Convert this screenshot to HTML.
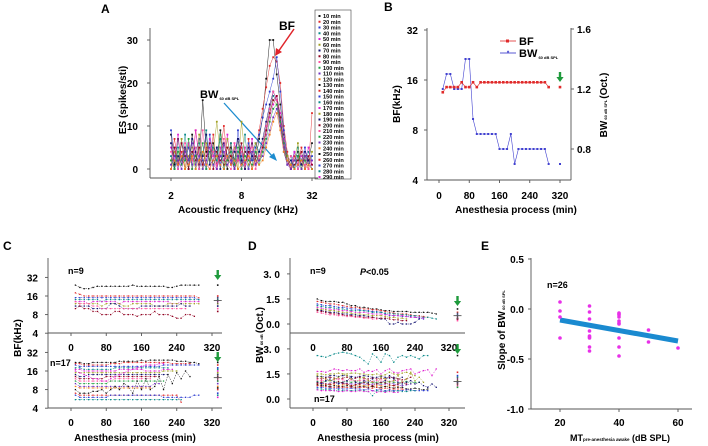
<!DOCTYPE html>
<html><head><meta charset="utf-8"><style>
html,body{margin:0;padding:0;background:#fff;}
svg{display:block;font-family:"Liberation Sans",Arial,sans-serif;font-weight:bold;}
</style></head><body>
<svg id="fig" width="708" height="446" viewBox="0 0 708 446" xmlns="http://www.w3.org/2000/svg">
<g>
<text x="101" y="13" font-size="12">A</text>
<text x="279" y="30" font-size="12">BF</text>
<line x1="294" y1="29" x2="278" y2="52" stroke="#e0242a" stroke-width="1.5"/>
<polygon points="275,56 276,48 282,52" fill="#e0242a"/>
<text x="200" y="98" font-size="11">BW<tspan font-size="4" dy="2"> 60 dB SPL</tspan></text>
<line x1="224" y1="103" x2="273" y2="157" stroke="#1d8ccf" stroke-width="1.3"/>
<polygon points="277,161 269,157 274,153" fill="#1d8ccf"/>
<text x="238" y="213" font-size="10" text-anchor="middle">Acoustic frequency (kHz)</text>
<text transform="translate(126,100) rotate(-90)" font-size="10" text-anchor="middle">ES (spikes/sti)</text>
<rect x="315" y="10" width="36" height="169" fill="none" stroke="#444" stroke-width="0.6"/>
</g>
<g>
<text x="384" y="11" font-size="12">B</text>
<text x="516" y="213" font-size="10" text-anchor="middle">Anesthesia process (min)</text>
<text transform="translate(400,104) rotate(-90)" font-size="10" text-anchor="middle">BF(kHz)</text>
<text transform="translate(607,105) rotate(-90)" font-size="10" text-anchor="middle">BW<tspan font-size="4"> 60 dB SPL </tspan>(Oct.)</text>
<line x1="500" y1="41" x2="516" y2="41" stroke="#e02a2a" stroke-width="0.8"/>
<rect x="506" y="39.5" width="3" height="3" fill="#e02a2a"/>
<text x="519" y="45" font-size="11">BF</text>
<line x1="500" y1="53" x2="516" y2="53" stroke="#3030c8" stroke-width="0.8"/>
<text x="508" y="55" font-size="6" fill="#3030c8" text-anchor="middle">*</text>
<text x="519" y="57" font-size="11">BW<tspan font-size="4" dy="2"> 60 dB SPL</tspan></text>
</g>
<g>
<text x="3" y="250" font-size="12">C</text>
<text x="135" y="441" font-size="10" text-anchor="middle">Anesthesia process (min)</text>
<text transform="translate(21,338) rotate(-90)" font-size="10" text-anchor="middle">BF(kHz)</text>
<text x="68" y="274" font-size="9">n=9</text>
<text x="50" y="366" font-size="9">n=17</text>
</g>
<g>
<text x="248" y="250" font-size="12">D</text>
<text transform="translate(263,335) rotate(-90)" font-size="10" text-anchor="middle">BW<tspan font-size="4"> 60 dB </tspan>(Oct.)</text>
<text x="310" y="274" font-size="9">n=9</text>
<text x="360" y="275" font-size="9"><tspan font-style="italic">P</tspan>&lt;0.05</text>
<text x="314" y="402" font-size="9">n=17</text>
<text x="378" y="441" font-size="10" text-anchor="middle">Anesthesia process (min)</text>
</g>
<g>
<text x="481" y="250" font-size="12">E</text>
<text x="547" y="288" font-size="9">n=26</text>
<text transform="translate(505,330) rotate(-90)" font-size="10" text-anchor="middle">Slope of BW<tspan font-size="4"> 60 dB SPL</tspan></text>
<text x="620" y="441" font-size="9" text-anchor="middle">MT<tspan font-size="4.5">pre-anesthesia awake</tspan> (dB SPL)</text>
</g>
</svg>
<script>
// ---------- Panel A data ----------
const aFreqIdx = Array.from({length:41},(_,i)=>i); // 1/10-octave steps from 2 kHz
const aSeries1=[8,1,7,2,5,0,8,3,1,16,4,2,6,1,9,3,0,5,2,7,1,4,3,6,2,7,12,21,30,30,22,15,8,3,1,2,4,1,3,2,6];
const aSeries2=[2,7,1,4,0,6,2,9,3,1,5,2,8,0,4,10,2,6,1,3,5,0,7,2,4,9,14,19,24,26,25,20,10,4,0,3,1,5,2,0,13];
const aSeries3=[9,3,0,6,2,5,1,4,7,2,0,8,3,5,1,6,2,4,0,9,3,1,6,2,5,8,12,15,18,21,26,18,9,2,1,4,0,2,5,1,3];
const aSeries4=[3,0,5,2,8,1,4,0,6,3,9,1,5,2,7,0,3,6,1,4,2,8,0,3,6,4,6,10,14,17,16,12,6,1,3,0,5,2,1,4,2];
const aSeries5=[5,2,8,1,3,6,0,9,2,4,1,7,3,0,5,2,8,1,6,3,0,5,2,7,1,3,5,8,12,15,17,13,7,2,0,4,1,3,2,5,1];
const aSeries6=[1,4,2,7,0,3,5,1,8,0,6,2,4,11,3,1,7,2,5,0,11,3,1,4,6,2,4,9,13,16,15,10,5,3,1,2,6,0,3,1,4];
const aSeries7=[6,0,3,1,5,2,7,4,0,3,8,1,2,5,0,6,3,1,4,7,2,0,5,3,1,4,7,11,15,18,16,11,4,1,2,0,3,1,4,2,0];
const aSeries8=[0,5,1,6,3,0,4,2,5,1,3,6,0,4,2,1,5,3,0,2,6,1,4,0,3,2,5,9,13,16,17,12,6,2,0,1,2,4,0,3,1];
const aSeries9=[4,2,0,3,6,1,2,5,0,9,2,0,4,1,3,7,1,0,6,2,4,1,3,5,0,3,6,10,14,18,16,10,5,1,3,2,0,2,1,0,2];
const aSeries10=[2,0,4,1,2,7,0,3,2,6,0,4,1,3,8,0,2,4,1,5,0,3,2,1,4,1,4,7,11,14,15,11,6,2,1,0,3,0,2,1,0];
const aSeries11=[1,3,2,0,4,2,6,1,3,0,2,5,1,0,3,4,1,2,0,3,1,2,0,4,1,2,3,6,9,12,14,10,5,1,0,2,1,0,3,1,2];
const aSeries12=[0,2,1,3,0,1,3,0,2,4,1,0,2,3,1,0,3,1,2,0,1,2,3,0,2,1,2,5,8,11,13,9,4,2,1,0,1,2,0,1,0];
const aYTicks=[0,10,20,30];
const aXTicks=[2,8,32];
const aLegend=[10,20,30,40,50,60,70,80,90,100,110,120,130,140,150,160,170,180,190,200,210,220,230,240,250,260,270,280,290];
// ---------- Panel B data ----------
const bTimes=[10,20,30,40,50,60,70,80,90,100,110,120,130,140,150,160,170,180,190,200,210,220,230,240,250,260,270,280,290];
const bBF=[13.5,14.5,14.5,14.5,14.5,15.5,14.5,14.5,15.5,14.5,15.5,15.5,15.5,15.5,15.5,15.5,15.5,15.5,15.5,15.5,15.5,15.5,15.5,15.5,15.5,15.5,15.5,15.5,14.5];
const bBW=[1.2,1.3,1.3,1.2,1.2,1.2,1.4,1.4,1.0,0.9,0.9,0.9,0.9,0.9,0.9,0.8,0.8,0.8,0.9,0.7,0.8,0.8,0.8,0.8,0.8,0.8,0.8,0.8,0.7];
const bFinalTime=[320];
const bFinalBF=[14.5];
const bFinalBW=[0.7];
const bLeftTicks=[4,8,16,32];
const bRightTicks=[0.8,1.2,1.6];
const bXTicks=[0,80,160,240,320];
// ---------- Panel C data (BF kHz, t = 10..290) ----------
const cTimes=bTimes;
const cTop1=[24,22,21,21,22,23,23,23,23,23,23,23,23,24,23,23,23,23,23,23,23,22,22,23,24,24,24,24,24];
const cTop2=[18,17,16,16,16,16,16,16,16,16,16,16,16,16,16,16,16,16,16,16,16,16,16,16,16,16,16,16,15];
const cTop3=[15,15,15,15,15,15,15,15,15,15,15,15,15,15,15,15,15,15,15,15,15,15,15,15,15,15,15,15,14];
const cTop4=[14,14,14,14,14,14,13,14,14,14,14,14,14,14,14,14,14,14,14,14,14,14,14,14,14,14,14,14,14];
const cTop5=[13,13,13,12,13,13,13,13,13,13,12,13,13,13,13,13,13,13,13,13,13,13,12,12,13,13,13,13,13];
const cTop6=[12,12,12,12,12,12,11,12,12,12,12,11,11,12,12,12,12,12,11,11,11,12,12,12,12,12,12,12,12];
const cTop7=[11,11,11,11,10,10,10,10,12,12,11,10,10,10,10,11,11,11,11,11,11,11,11,11,12,11,11];
const cTop8=[10,11,10,10,9,9,8,8,8,9,9,8,8,8,7.5,8,8,8,9,8,8,8,7.5,7,7,8,8,7.5];
const cTop9=[13,12,12,12,11,11,10,10,10,10,10,10,10,10,10,10,10,10,10,10,10,10,10,10,10,10];
const cBot1=[22,22,21,21,22,22,22,22,22,22,23,23,23,23,23,24,23,24,24,24,24,24,24,23,23,23,22,22,21];
const cBot2=[21,21,20,20,20,20,20,20,21,21,21,22,22,22,22,22,22,22,22,22,22,22,21,21,21,21,21];
const cBot3=[20,19,19,19,19,19,19,19,19,19,19,19,19,19,19,19,19,19,19,19,20,20,20,20,20,20,20,20,20];
const cBot4=[18,18,17,17,17,17,17,17,17,18,18,18,18,18,18,18,18,18,18,18,18,18];
const cBot5=[17,17,16,16,16,16,16,16,16,16,17,17,17,17,17,17,16,16,16,16,17,17,17];
const cBot6=[15,15,15,15,15,15,15,15,15,15,15,15,15,15,15,15,15,15,15,15,16,16,16,16];
const cBot7=[14,13,13,14,14,14,14,14,14,14,14,14,14,14,14,14,14,14,14,14,14,14];
const cBot8=[13,12,12,12,12,12,12,13,13,13,13,13,13,13,13,13,13,13,13,13];
const cBot9=[12,11,11,11,11,11,11,11,11,12,12,12,12,12,12,12,12,12];
const cBot10=[11,10,10,10,10,10,10,10,11,11,11,11,11,11,11,11,11,11,11,11,11];
const cBot11=[10,9,9,9,9,9,9,9,9,9,9,9,9,9,9,9,9,9,10,10];
const cBot12=[9,8.5,8.5,8.5,8.5,8.5,8.5,8.5,8.5,8.5,8.5,8.5,8.5,8.5,8.5,8.5,8.5,8.5];
const cBot13=[8,7,7,7,7.5,7.5,8,7,8,9,8,10,9,7,11,8,12,8,9,13,8,14,10,15,12,16,13];
const cBot14=[7,6.5,6.5,6.5,6.5,6.5,6.5,6.5,6.5,6.5,6.5,6.5,6.5,6.5,6.5,6.5,6.5,6.5,6.5,6.5,6.5,6.5,6.5,6.5,5];
const cBot15=[6.5,6,6,6,6,6,6,6,6.5,6.5,6.5,6.5,6.5,6.5,6.5,6.5,6.5,6.5,6.5,6.5,6,6,6,6,6,6,6,6.5,6.5];
const cBot16=[5.5,5.5,5.5,5.5,5.5,5.5,5.5,5.5,5.5,5.5,5.5,5.5,5.5,5.5,5.5,5.5,5.5,5.5,5.5,5.5,5.5,5.5,5.5,5.5,5.5];
const cBot17=[16,15,14,13,12,12,11,11,12,13,14,15,16,17,18,19,20,20,20,21,21];
const cTopFinal=[24,16,15,14,13,12,11,9,10];
const cBotFinal=[22,20,18,17,16,15,14,13,12,11,10,9,8.5,8,7,6.5,6];
const cTopMean=[13.5];
const cBotMean=[12.5];
const cLogTicks=[4,8,16,32];
const cXTicks=[0,80,160,240,320];
// ---------- Panel D data (BW Oct.) ----------
const dTop1=[1.5,1.4,1.35,1.35,1.35,1.3,1.3,1.2,1.1,1.1,1.0,1.0,0.95,0.9,0.9,0.85,0.8,0.8,0.75,0.75,0.75,0.75,0.7,0.7,0.7,0.7,0.7,0.65,0.6];
const dTop2=[1.35,1.3,1.25,1.2,1.2,1.15,1.1,1.05,1.0,1.0,0.95,0.9,0.9,0.85,0.85,0.8,0.75,0.7,0.65,0.6,0.6,0.6,0.55,0.5,0.5,0.45,0.4];
const dTop3=[1.2,1.15,1.1,1.1,1.05,1.0,1.0,0.95,0.9,0.9,0.85,0.8,0.8,0.75,0.75,0.7,0.6,0.5,0.5,0.5,0.45,0.45,0.45,0.4,0.35,0.3];
const dTop4=[1.1,1.05,1.0,1.0,0.95,0.9,0.9,0.85,0.8,0.8,0.8,0.8,0.75,0.7,0.7,0.7,0.65,0.65,0.6,0.6,0.55,0.55,0.5,0.5,0.45,0.4,0.4,0.35,0.3];
const dTop5=[1.0,0.95,0.9,0.9,0.85,0.85,0.8,0.8,0.75,0.7,0.7,0.7,0.65,0.6,0.6,0.6,0.55,0.55,0.5,0.5,0.5,0.45,0.4,0.4,0.4,0.35];
const dTop6=[0.9,0.85,0.85,0.8,0.8,0.75,0.7,0.7,0.65,0.6,0.6,0.55,0.55,0.5,0.5,0.5,0.45,0.4,0.4,0.35,0.35,0.3];
const dTop7=[0.85,0.8,0.75,0.7,0.7,0.65,0.6,0.6,0.55,0.55,0.5,0.5,0.45,0.4,0.35,0.3,0.3,0.0,0.0,0.1,0.0,0.0,0.0,0.1,0.3];
const dTop8=[0.8,0.75,0.7,0.65,0.6,0.6,0.55,0.5,0.5,0.45,0.45,0.4,0.4,0.4,0.35,0.35,0.35,0.3,0.25,0.25,0.2,0.2];
const dTop9=[0.7,0.65,0.6,0.55,0.55,0.5,0.5,0.45,0.45,0.4,0.4,0.35,0.35,0.3,0.3];
const dBot1=[2.6,2.55,2.5,2.6,2.7,2.75,2.8,2.75,2.7,2.6,2.5,2.3,2.1,2.7,2.5,2.2,2.7,2.6,2.2,2.5,2.6,2.5,2.6,2.5,2.4,2.6,2.6];
const dBot2=[1.65,1.65,1.6,1.7,1.8,1.75,1.7,1.75,1.7,1.7,1.8,1.6,1.7,1.65,1.75,1.5,1.7,1.8,1.6,1.55,1.7,1.75,1.8,1.5,1.6,1.7,1.75,1.4,1.8];
const dBot3=[1.5,1.5,1.45,1.5,1.5,1.55,1.5,1.5,1.55,1.55,1.5,1.5,1.45,1.45,1.5,1.4,1.45,1.6,1.5,1.45,1.55,1.6,1.5,1.4];
const dBot4=[1.35,1.35,1.3,1.4,1.4,1.35,1.4,1.4,1.35,1.3,1.35,1.4,1.35,1.3,1.3,1.35,1.3,1.25,1.3,1.2,1.3];
const dBot5=[1.25,1.2,1.25,1.3,1.25,1.2,1.25,1.3,1.2,1.25,1.3,1.25,1.2,1.25,1.2,1.25,1.2,1.3,1.25,1.2,1.15,1.2,1.3];
const dBot6=[1.15,1.1,1.15,1.1,1.15,1.2,1.15,1.1,1.15,1.1,1.1,1.15,1.1,1.05,1.1,1.15,1.1,1.05,1.1,1.1];
const dBot7=[1.05,1.0,1.05,1.1,1.05,1.0,1.0,1.05,1.0,1.05,1.0,1.0,0.95,1.0,1.0,0.95,1.0,1.05,1.0,0.95,1.0,1.05,0.95,1.0,1.0];
const dBot8=[0.95,0.95,0.9,0.95,1.0,0.95,0.9,0.95,0.9,0.9,0.95,0.9,0.85,0.9,0.9,0.85,0.9,0.95,0.9,0.85,0.8,0.85,0.9];
const dBot9=[0.9,0.85,0.85,0.9,0.85,0.8,0.85,0.85,0.8,0.8,0.85,0.8,0.8,0.75,0.8,0.8,0.75,0.8,0.8,0.75];
const dBot10=[0.85,0.8,0.8,0.75,0.8,0.75,0.75,0.8,0.75,0.7,0.75,0.75,0.7,0.75,0.7,0.7,0.75,0.7,0.65,0.7,0.7,0.6,0.6,0.65,0.6,0.55,0.6];
const dBot11=[0.8,0.75,0.75,0.7,0.7,0.7,0.7,0.7,0.7,0.65,0.7,0.7,0.65,0.65,0.7,0.6,0.65,0.6,0.6,0.6,0.6,0.55,0.55];
const dBot12=[0.7,0.7,0.65,0.65,0.6,0.65,0.6,0.6,0.65,0.6,0.6,0.55,0.6,0.5,0.55,0.55,0.5,0.55,0.5,0.5,0.5,0.55,0.55,0.5,0.5,0.5,0.5];
const dBot13=[0.6,0.6,0.55,0.55,0.5,0.55,0.5,0.5,0.5,0.5,0.5,0.5,0.45,0.2,0.5,0.45,0.45,0.5,0.45,0.5,0.45,0.45,0.5,0.5];
const dBot14=[0.55,0.5,0.5,0.5,0.5,0.45,0.45,0.5,0.45,0.45,0.5,0.45,0.45,0.5,0.4,0.45,0.4,0.45,0.4,0.4];
const dBot15=[1.4,1.3,1.2,1.1,1.2,1.3,1.5,1.4,1.2,1.0,1.2,1.3,1.1,1.0,0.9,1.3,1.2,1.0,1.1,1.4,1.0,1.2,1.6,1.1,1.3,1.0];
const dBot16=[1.0,0.9,1.1,1.2,1.0,0.9,1.0,1.1,1.3,1.0,0.9,1.1,1.0,1.2,0.9,1.0,1.1,1.4,1.2,1.0,0.9,1.0,1.1,0.9,1.0,0.8,0.7,0.9,0.7];
const dBot17=[0.95,1.0,0.9,0.85,0.95,1.05,0.95,0.9,0.8,0.85,0.9,1.0,0.9,0.8,0.9,1.0,0.95,0.85,0.8,0.9,1.0,0.9];
const dTopFinal=[0.9,0.7,0.6,0.5,0.4,0.35,0.3,0.3,0.2];
const dBotFinal=[2.6,1.6,1.4,1.3,1.2,1.1,1.0,0.9,0.8,0.7];
const dTopMean=[0.5];
const dBotMean=[1.05];
const dYTicks=[0,1.5,3];
const dXTicks=[0,80,160,240,320];
// ---------- Panel E data ----------
const eMT=[20,20,20,20,30,30,30,30,30,30,30,30,30,40,40,40,40,40,40,40,40,40,40,50,50,60];
const eSlope=[0.07,-0.02,-0.08,-0.29,0.03,-0.03,-0.1,-0.22,-0.27,-0.28,-0.29,-0.38,-0.42,-0.04,-0.05,-0.06,-0.08,-0.12,-0.14,-0.15,-0.29,-0.38,-0.47,-0.21,-0.33,-0.39];
const eFitX=[20,60];
const eFitY=[-0.11,-0.32];
const eYTicks=[-1.0,-0.5,0.0,0.5];
const eXTicks=[20,40,60];

const NS="http://www.w3.org/2000/svg";
const svg=document.getElementById('fig');
function mk(tag,attrs,parent){const e=document.createElementNS(NS,tag);for(const k in attrs)e.setAttribute(k,attrs[k]);(parent||svg).appendChild(e);return e;}
const palette=['#111','#e02a2a','#2a3ad0','#0a8a8a','#e020d0','#a0a020','#101070','#900020','#ff50a0','#20a040','#7030c0','#f08020'];
function group(name){const g=mk('g',{});


return g;}
function axLine(g,x1,y1,x2,y2,name){const l=mk('line',{x1,y1,x2,y2,stroke:'#555','stroke-width':0.9},g);

}
function tickText(g,x,y,txt,anchor,name,fs){const t=mk('text',{x,y,'font-size':fs||10,'text-anchor':anchor},g);t.textContent=txt;

}
function series(g,xs,ys,xf,yf,color,opts,name){
  opts=opts||{};const pts=[];
  for(let i=0;i<ys.length;i++){if(ys[i]==null)continue;pts.push([xf(xs[i]),yf(ys[i])]);}
  const p=mk('polyline',{points:pts.map(p=>p.join(',')).join(' '),fill:'none',stroke:color,'stroke-width':opts.w||0.5,'stroke-dasharray':opts.dash||'none',opacity:opts.op||1},g);
  
  
  const ms=opts.ms||1.6;
  pts.forEach(q=>{const r=mk('rect',{x:q[0]-ms/2,y:q[1]-ms/2,width:ms,height:ms,fill:color},g);
  
  });
}
function greenArrow(g,x,y,name){const a=mk('path',{d:`M${x-1.2},${y} h2.4 v5 h2.4 l-3.6,5 l-3.6,-5 h2.4 z`,fill:'#1e9a3c'},g);

}

// ===== Panel A =====
(function(){
 const g=group('panel-a-chart');
 const ax=f=>171+35.25*Math.log2(f/2);
 const axi=i=>171+35.25*i/10;
 const ay=v=>169-4.3*v;
 axLine(g,150,28,150,178,'a-y-axis');axLine(g,150,178,318,178,'a-x-axis');
 aYTicks.forEach(v=>{axLine(g,147,ay(v),150,ay(v),'a-y-tick');tickText(g,138,ay(v)+4,String(v),'end','a-y-tick-label');});
 aXTicks.forEach(f=>{axLine(g,ax(f),178,ax(f),181,'a-x-tick');tickText(g,ax(f),199,String(f),'middle','a-x-tick-label');});
 const all=[aSeries1,aSeries2,aSeries3,aSeries4,aSeries5,aSeries6,aSeries7,aSeries8,aSeries9,aSeries10,aSeries11,aSeries12];
 all.forEach((s,k)=>series(g,aFreqIdx,s,axi,ay,palette[k%palette.length],{w:0.5,ms:1.8,op:0.9},'a-series-'+(k+1)));
 aLegend.forEach((m,k)=>{const y=16+k*5.75;
  const r=mk('rect',{x:318.5,y:y-1,width:2,height:2,fill:palette[k%palette.length]},g);
  
  
  tickText(g,323,y+2,m+' min','start','a-legend-entry',5.6);});
})();

// ===== Panel B =====
(function(){
 const g=group('panel-b-chart');
 const bx=t=>439+t*121/320;
 const byL=f=>80-50*Math.log2(f/16);
 const byR=w=>89-(w-1.2)*150;
 axLine(g,427,28,427,180,'b-left-axis');axLine(g,571,28,571,180,'b-right-axis');axLine(g,427,180,571,180,'b-x-axis');
 bLeftTicks.forEach(f=>{axLine(g,424,byL(f),427,byL(f),'b-left-tick');tickText(g,418,byL(f)+4,String(f),'end','b-left-tick-label');});
 bRightTicks.forEach(w=>{axLine(g,571,byR(w),574,byR(w),'b-right-tick');tickText(g,577,byR(w)+4,w.toFixed(1),'start','b-right-tick-label');});
 bXTicks.forEach(t=>{axLine(g,bx(t),180,bx(t),183,'b-x-tick');tickText(g,bx(t),199,String(t),'middle','b-x-tick-label');});
 series(g,bTimes,bBW,bx,byR,'#4040d0',{w:0.6,ms:2},'b-bw');
 series(g,bTimes,bBF,bx,byL,'#e02a2a',{w:0.6,ms:2.6},'b-bf');
 series(g,bFinalTime,bFinalBW,bx,byR,'#4040d0',{ms:2},'b-bw-final');
 series(g,bFinalTime,bFinalBF,bx,byL,'#e02a2a',{ms:2.6},'b-bf-final');
 greenArrow(g,bx(320),72,'b-green-arrow');
})();

// ===== Panel C =====
(function(){
 const g=group('panel-c-chart');
 const cx=t=>71+t*141/320;
 const cyT=f=>296-18.6*Math.log2(f/16);
 const cyB=f=>371-18.6*Math.log2(f/16);
 axLine(g,48,258,48,408,'c-y-axis');axLine(g,48,333,222,333,'c-mid-axis');axLine(g,48,408,222,408,'c-x-axis');
 cLogTicks.forEach(f=>{axLine(g,45,cyT(f),48,cyT(f),'c-top-tick');tickText(g,38,cyT(f)+4,String(f),'end','c-top-tick-label');
  axLine(g,45,cyB(f),48,cyB(f),'c-bottom-tick');tickText(g,38,cyB(f)+4,String(f),'end','c-bottom-tick-label');});
 cXTicks.forEach(t=>{axLine(g,cx(t),333,cx(t),336,'c-mid-tick');tickText(g,cx(t),351,String(t),'middle','c-mid-tick-label');
  axLine(g,cx(t),408,cx(t),411,'c-x-tick');tickText(g,cx(t),426,String(t),'middle','c-x-tick-label');});
 const top=[cTop1,cTop2,cTop3,cTop4,cTop5,cTop6,cTop7,cTop8,cTop9];
 const bot=[cBot1,cBot2,cBot3,cBot4,cBot5,cBot6,cBot7,cBot8,cBot9,cBot10,cBot11,cBot12,cBot13,cBot14,cBot15,cBot16,cBot17];
 top.forEach((s,k)=>series(g,cTimes,s,cx,cyT,palette[k%palette.length],{w:0.5,dash:'1.5,1.2',ms:1.3},'c-top-series-'+(k+1)));
 bot.forEach((s,k)=>series(g,cTimes,s,cx,cyB,palette[k%palette.length],{w:0.5,dash:'1.5,1.2',ms:1.3},'c-bottom-series-'+(k+1)));
 const fx=cx(333);
 cTopFinal.forEach((v,k)=>{const r=mk('rect',{x:fx-0.8,y:cyT(v)-0.8,width:1.6,height:1.6,fill:palette[k%palette.length]},g);
  
  });
 cBotFinal.forEach((v,k)=>{const r=mk('rect',{x:fx-0.8,y:cyB(v)-0.8,width:1.6,height:1.6,fill:palette[k%palette.length]},g);
  
  });
 axLine(g,fx-4,cyT(cTopMean[0]),fx+4,cyT(cTopMean[0]),'c-top-mean');axLine(g,fx,cyT(cTopMean[0]*1.15),fx,cyT(cTopMean[0]/1.15),'c-top-error');
 axLine(g,fx-4,cyB(cBotMean[0]),fx+4,cyB(cBotMean[0]),'c-bottom-mean');axLine(g,fx,cyB(cBotMean[0]*1.15),fx,cyB(cBotMean[0]/1.15),'c-bottom-error');
 greenArrow(g,fx,270,'c-top-green-arrow');greenArrow(g,fx,352,'c-bottom-green-arrow');
})();

// ===== Panel D =====
(function(){
 const g=group('panel-d-chart');
 const dx=t=>313+t*136/320;
 const dyT=w=>324-w*16.7;
 const dyB=w=>399-w*16.7;
 axLine(g,290,258,290,408,'d-y-axis');axLine(g,290,333,465,333,'d-mid-axis');axLine(g,290,408,465,408,'d-x-axis');
 dYTicks.forEach(w=>{const lbl=w===0?'0.0':w.toFixed(1).replace('3.0','3. 0');
  axLine(g,287,dyT(w),290,dyT(w),'d-top-tick');tickText(g,280,dyT(w)+4,lbl,'end','d-top-tick-label');
  axLine(g,287,dyB(w),290,dyB(w),'d-bottom-tick');tickText(g,280,dyB(w)+4,lbl,'end','d-bottom-tick-label');});
 dXTicks.forEach(t=>{tickText(g,dx(t),351,String(t),'middle','d-mid-tick-label');
  axLine(g,dx(t),408,dx(t),411,'d-x-tick');tickText(g,dx(t),426,String(t),'middle','d-x-tick-label');});
 const top=[dTop1,dTop2,dTop3,dTop4,dTop5,dTop6,dTop7,dTop8,dTop9];
 const bot=[dBot1,dBot2,dBot3,dBot4,dBot5,dBot6,dBot7,dBot8,dBot9,dBot10,dBot11,dBot12,dBot13,dBot14,dBot15,dBot16,dBot17];
 top.forEach((s,k)=>series(g,cTimes,s,dx,dyT,palette[k%palette.length],{w:0.5,dash:'1.5,1.2',ms:1.3},'d-top-series-'+(k+1)));
 bot.forEach((s,k)=>series(g,cTimes,s,dx,dyB,palette[(k+3)%palette.length],{w:0.5,dash:'1.5,1.2',ms:1.3},'d-bottom-series-'+(k+1)));
 const fx=dx(340);
 dTopFinal.forEach((v,k)=>{const r=mk('rect',{x:fx-0.8,y:dyT(v)-0.8,width:1.6,height:1.6,fill:palette[k%palette.length]},g);
  
  });
 dBotFinal.forEach((v,k)=>{const r=mk('rect',{x:fx-0.8,y:dyB(v)-0.8,width:1.6,height:1.6,fill:palette[k%palette.length]},g);
  
  });
 axLine(g,fx-4,dyT(dTopMean[0]),fx+4,dyT(dTopMean[0]),'d-top-mean');axLine(g,fx,dyT(dTopMean[0]+0.2),fx,dyT(dTopMean[0]-0.2),'d-top-error');
 axLine(g,fx-4,dyB(dBotMean[0]),fx+4,dyB(dBotMean[0]),'d-bottom-mean');axLine(g,fx,dyB(dBotMean[0]+0.25),fx,dyB(dBotMean[0]-0.25),'d-bottom-error');
 greenArrow(g,fx,296,'d-top-green-arrow');greenArrow(g,fx,344,'d-bottom-green-arrow');
})();

// ===== Panel E =====
(function(){
 const g=group('panel-e-chart');
 const ex=m=>560+(m-20)*59/20;
 const ey=s=>309-s*100;
 axLine(g,531,258,531,409,'e-y-axis');axLine(g,531,409,692,409,'e-x-axis');
 eYTicks.forEach(s=>{axLine(g,528,ey(s),531,ey(s),'e-y-tick');tickText(g,524,ey(s)+4,s.toFixed(1),'end','e-y-tick-label');});
 eXTicks.forEach(m=>{axLine(g,ex(m),409,ex(m),412,'e-x-tick');tickText(g,ex(m),426,String(m),'middle','e-x-tick-label');});
 const l=mk('line',{x1:ex(eFitX[0]),y1:ey(eFitY[0]),x2:ex(eFitX[1]),y2:ey(eFitY[1]),stroke:'#1a8ad0','stroke-width':5},g);
 
 
 eMT.forEach((m,i)=>{const c=mk('circle',{cx:ex(m),cy:ey(eSlope[i]),r:1.8,fill:'#e830e8'},g);
  
  });
})();
</script>
</body></html>
